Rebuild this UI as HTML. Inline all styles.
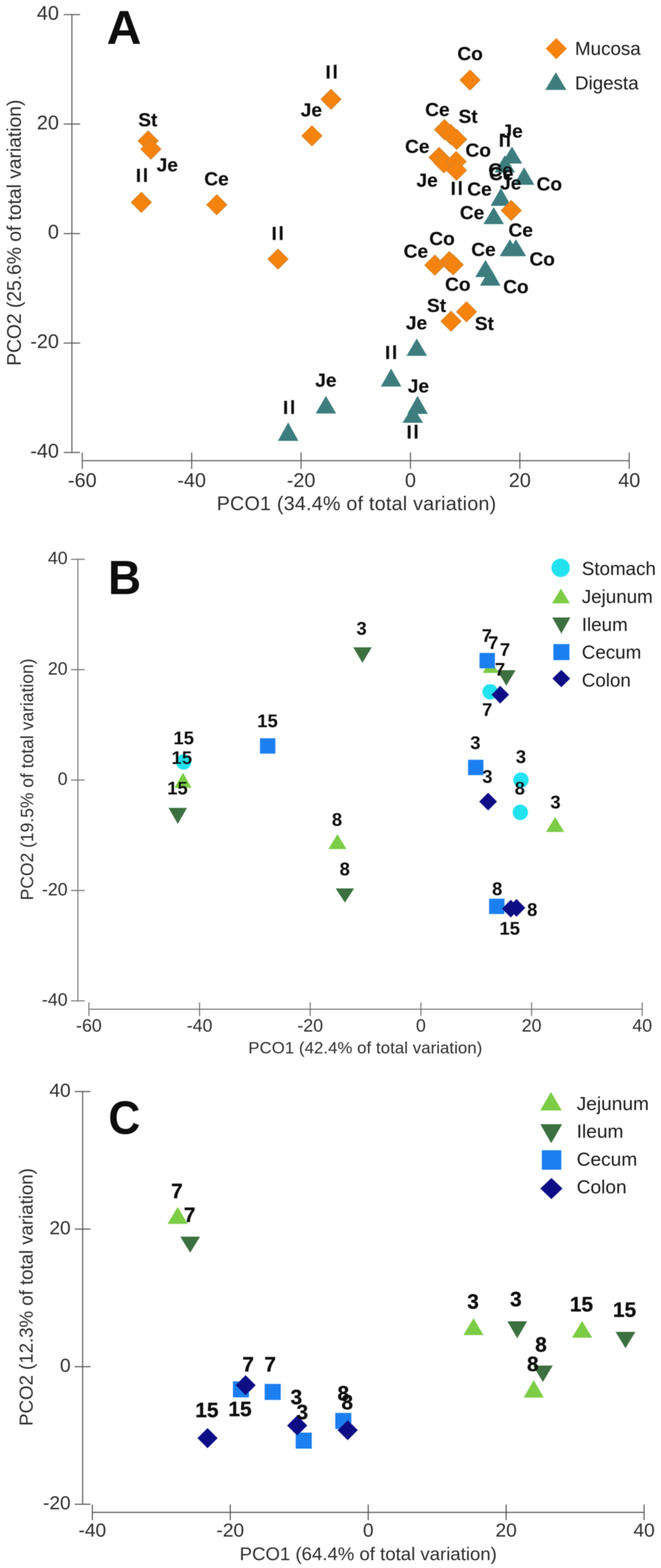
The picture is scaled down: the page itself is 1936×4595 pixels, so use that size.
<!DOCTYPE html>
<html><head><meta charset="utf-8"><title>PCO plots</title>
<style>
html,body{margin:0;padding:0;background:#fff;}
body{width:1936px;height:4595px;overflow:hidden;}
svg{display:block;}
text{font-family:"Liberation Sans",Arial,sans-serif;}
.tk{fill:#2e2e2e;}
.tt{fill:#2e2e2e;}
.lb{fill:#111;font-weight:bold;}
.lbA{stroke:#111;stroke-width:0.4px;}
.lbC{stroke:#111;stroke-width:0.8px;}
.big{fill:#0a0a0a;font-weight:bold;}
.lg{fill:#1e1e1e;}
</style></head>
<body>
<svg width="1936" height="4595" viewBox="0 0 1936 4595">
<defs><filter id="soft" x="0" y="0" width="100%" height="100%" filterUnits="userSpaceOnUse"><feGaussianBlur stdDeviation="1.0"/></filter></defs>
<rect width="1936" height="4595" fill="#fff"/>
<g filter="url(#soft)">
<line x1="210.5" y1="42.8" x2="210.5" y2="1326.0" stroke="#555" stroke-width="3"/>
<line x1="186.5" y1="42.8" x2="234.5" y2="42.8" stroke="#555" stroke-width="3"/>
<text x="172.5" y="57.8" font-size="58" class="tk" text-anchor="end">40</text>
<line x1="186.5" y1="363.6" x2="234.5" y2="363.6" stroke="#555" stroke-width="3"/>
<text x="172.5" y="378.6" font-size="58" class="tk" text-anchor="end">20</text>
<line x1="186.5" y1="684.4" x2="234.5" y2="684.4" stroke="#555" stroke-width="3"/>
<text x="172.5" y="699.4" font-size="58" class="tk" text-anchor="end">0</text>
<line x1="186.5" y1="1005.2" x2="234.5" y2="1005.2" stroke="#555" stroke-width="3"/>
<text x="172.5" y="1020.2" font-size="58" class="tk" text-anchor="end">-20</text>
<line x1="186.5" y1="1326.0" x2="234.5" y2="1326.0" stroke="#555" stroke-width="3"/>
<text x="172.5" y="1341.0" font-size="58" class="tk" text-anchor="end">-40</text>
<line x1="241.0" y1="1350" x2="1843.0" y2="1350" stroke="#555" stroke-width="3"/>
<line x1="241.0" y1="1326" x2="241.0" y2="1374" stroke="#555" stroke-width="3"/>
<text x="241.0" y="1427.0" font-size="58" class="tk" text-anchor="middle">-60</text>
<line x1="561.4" y1="1326" x2="561.4" y2="1374" stroke="#555" stroke-width="3"/>
<text x="561.4" y="1427.0" font-size="58" class="tk" text-anchor="middle">-40</text>
<line x1="881.8" y1="1326" x2="881.8" y2="1374" stroke="#555" stroke-width="3"/>
<text x="881.8" y="1427.0" font-size="58" class="tk" text-anchor="middle">-20</text>
<line x1="1202.2" y1="1326" x2="1202.2" y2="1374" stroke="#555" stroke-width="3"/>
<text x="1202.2" y="1427.0" font-size="58" class="tk" text-anchor="middle">0</text>
<line x1="1522.6" y1="1326" x2="1522.6" y2="1374" stroke="#555" stroke-width="3"/>
<text x="1522.6" y="1427.0" font-size="58" class="tk" text-anchor="middle">20</text>
<line x1="1843.0" y1="1326" x2="1843.0" y2="1374" stroke="#555" stroke-width="3"/>
<text x="1843.0" y="1427.0" font-size="58" class="tk" text-anchor="middle">40</text>
<text x="1044.0" y="1495.0" font-size="57.5" class="tt" text-anchor="middle" id="xA" textLength="818.5" lengthAdjust="spacing">PCO1 (34.4% of total variation)</text>
<text x="0" y="0" font-size="56.5" class="tt" text-anchor="middle" transform="translate(61,682) rotate(-90)" id="yA" textLength="780.0" lengthAdjust="spacing">PCO2 (25.6% of total variation)</text>
<text x="312.5" y="129.2" font-size="140.7" class="big" text-anchor="start" transform="matrix(1 0 0 0.99 0 1.29)">A</text>
<path d="M1629.3 111.4L1660.3 142.4L1629.3 173.4L1598.3 142.4Z" fill="#f6830f"/>
<path d="M1628.0 211.7L1659.0 263.6L1597.0 263.6Z" fill="#3d7d7e"/>
<text x="1684.0" y="161.4" font-size="55" class="lg" text-anchor="start">Mucosa</text>
<text x="1684.0" y="262.0" font-size="55" class="lg" text-anchor="start">Digesta</text>
<path d="M1499.5 429.5L1529.5 479.3L1469.5 479.3Z" fill="#3d7d7e"/>
<path d="M1478.5 455.0L1508.5 505.6L1448.5 505.6Z" fill="#3d7d7e"/>
<path d="M1535.0 490.0L1565.0 541.6L1505.0 541.6Z" fill="#3d7d7e"/>
<path d="M1467.0 551.0L1497.0 603.2L1437.0 603.2Z" fill="#3d7d7e"/>
<path d="M1446.0 607.0L1476.0 656.8L1416.0 656.8Z" fill="#3d7d7e"/>
<path d="M1493.5 701.0L1523.5 750.8L1463.5 750.8Z" fill="#3d7d7e"/>
<path d="M1511.0 701.0L1541.0 750.8L1481.0 750.8Z" fill="#3d7d7e"/>
<path d="M1422.0 762.0L1452.0 812.0L1392.0 812.0Z" fill="#3d7d7e"/>
<path d="M1436.0 785.0L1466.0 837.0L1406.0 837.0Z" fill="#3d7d7e"/>
<path d="M1220.7 992.0L1250.7 1042.8L1190.7 1042.8Z" fill="#3d7d7e"/>
<path d="M1145.5 1080.0L1175.5 1132.7L1115.5 1132.7Z" fill="#3d7d7e"/>
<path d="M954.6 1160.0L984.6 1211.8L924.6 1211.8Z" fill="#3d7d7e"/>
<path d="M844.0 1237.8L874.0 1292.0L814.0 1292.0Z" fill="#3d7d7e"/>
<path d="M1223.0 1160.0L1253.0 1213.0L1193.0 1213.0Z" fill="#3d7d7e"/>
<path d="M1209.0 1190.8L1239.0 1239.0L1179.0 1239.0Z" fill="#3d7d7e"/>
<path d="M434.0 383.3L463.7 413.0L434.0 442.7L404.3 413.0Z" fill="#f6830f" stroke="#d0862c" stroke-width="2" stroke-linejoin="round"/>
<path d="M442.0 407.3L471.7 437.0L442.0 466.7L412.3 437.0Z" fill="#f6830f" stroke="#d0862c" stroke-width="2" stroke-linejoin="round"/>
<path d="M414.0 563.3L443.7 593.0L414.0 622.7L384.3 593.0Z" fill="#f6830f" stroke="#d0862c" stroke-width="2" stroke-linejoin="round"/>
<path d="M635.0 570.3L664.7 600.0L635.0 629.7L605.3 600.0Z" fill="#f6830f" stroke="#d0862c" stroke-width="2" stroke-linejoin="round"/>
<path d="M814.3 729.6L844.0 759.3L814.3 789.0L784.6 759.3Z" fill="#f6830f" stroke="#d0862c" stroke-width="2" stroke-linejoin="round"/>
<path d="M913.6 368.3L943.3 398.0L913.6 427.7L883.9 398.0Z" fill="#f6830f" stroke="#d0862c" stroke-width="2" stroke-linejoin="round"/>
<path d="M969.6 261.3L999.3 291.0L969.6 320.7L939.9 291.0Z" fill="#f6830f" stroke="#d0862c" stroke-width="2" stroke-linejoin="round"/>
<path d="M1376.7 204.9L1406.4 234.6L1376.7 264.3L1347.0 234.6Z" fill="#f6830f" stroke="#d0862c" stroke-width="2" stroke-linejoin="round"/>
<path d="M1302.0 350.3L1331.7 380.0L1302.0 409.7L1272.3 380.0Z" fill="#f6830f" stroke="#d0862c" stroke-width="2" stroke-linejoin="round"/>
<path d="M1320.0 364.3L1349.7 394.0L1320.0 423.7L1290.3 394.0Z" fill="#f6830f" stroke="#d0862c" stroke-width="2" stroke-linejoin="round"/>
<path d="M1337.5 378.8L1367.2 408.5L1337.5 438.2L1307.8 408.5Z" fill="#f6830f" stroke="#d0862c" stroke-width="2" stroke-linejoin="round"/>
<path d="M1286.0 431.8L1315.7 461.5L1286.0 491.2L1256.3 461.5Z" fill="#f6830f" stroke="#d0862c" stroke-width="2" stroke-linejoin="round"/>
<path d="M1300.0 447.3L1329.7 477.0L1300.0 506.7L1270.3 477.0Z" fill="#f6830f" stroke="#d0862c" stroke-width="2" stroke-linejoin="round"/>
<path d="M1336.0 443.8L1365.7 473.5L1336.0 503.2L1306.3 473.5Z" fill="#f6830f" stroke="#d0862c" stroke-width="2" stroke-linejoin="round"/>
<path d="M1337.0 469.3L1366.7 499.0L1337.0 528.7L1307.3 499.0Z" fill="#f6830f" stroke="#d0862c" stroke-width="2" stroke-linejoin="round"/>
<path d="M1497.5 587.0L1527.2 616.7L1497.5 646.4L1467.8 616.7Z" fill="#f6830f" stroke="#d0862c" stroke-width="2" stroke-linejoin="round"/>
<path d="M1273.5 747.3L1303.2 777.0L1273.5 806.7L1243.8 777.0Z" fill="#f6830f" stroke="#d0862c" stroke-width="2" stroke-linejoin="round"/>
<path d="M1316.0 736.9L1345.7 766.6L1316.0 796.3L1286.3 766.6Z" fill="#f6830f" stroke="#d0862c" stroke-width="2" stroke-linejoin="round"/>
<path d="M1327.4 746.3L1357.1 776.0L1327.4 805.7L1297.7 776.0Z" fill="#f6830f" stroke="#d0862c" stroke-width="2" stroke-linejoin="round"/>
<path d="M1321.0 911.7L1350.7 941.4L1321.0 971.1L1291.3 941.4Z" fill="#f6830f" stroke="#d0862c" stroke-width="2" stroke-linejoin="round"/>
<path d="M1366.4 884.0L1396.1 913.7L1366.4 943.4L1336.7 913.7Z" fill="#f6830f" stroke="#d0862c" stroke-width="2" stroke-linejoin="round"/>
<text x="433.0" y="370.0" font-size="56" class="lb lbA" text-anchor="middle">St</text>
<text x="490.0" y="502.0" font-size="56" class="lb lbA" text-anchor="middle">Je</text>
<text x="418.3" y="533.0" font-size="56" class="lb lbA" text-anchor="middle" letter-spacing="5">Il</text>
<text x="634.0" y="542.6" font-size="56" class="lb lbA" text-anchor="middle">Ce</text>
<text x="815.8" y="702.5" font-size="56" class="lb lbA" text-anchor="middle" letter-spacing="5">Il</text>
<text x="912.0" y="340.7" font-size="56" class="lb lbA" text-anchor="middle">Je</text>
<text x="973.9" y="230.0" font-size="56" class="lb lbA" text-anchor="middle" letter-spacing="5">Il</text>
<text x="1376.8" y="175.6" font-size="56" class="lb lbA" text-anchor="middle">Co</text>
<text x="1281.0" y="339.6" font-size="56" class="lb lbA" text-anchor="middle">Ce</text>
<text x="1371.0" y="360.0" font-size="56" class="lb lbA" text-anchor="middle">St</text>
<text x="1222.0" y="447.7" font-size="56" class="lb lbA" text-anchor="middle">Ce</text>
<text x="1400.7" y="458.8" font-size="56" class="lb lbA" text-anchor="middle">Co</text>
<text x="1251.0" y="547.0" font-size="56" class="lb lbA" text-anchor="middle">Je</text>
<text x="1340.3" y="571.0" font-size="56" class="lb lbA" text-anchor="middle" letter-spacing="5">Il</text>
<text x="1404.4" y="573.0" font-size="56" class="lb lbA" text-anchor="middle">Ce</text>
<text x="1500.0" y="403.3" font-size="56" class="lb lbA" text-anchor="middle">Je</text>
<text x="1481.3" y="429.5" font-size="56" class="lb lbA" text-anchor="middle" letter-spacing="5">Il</text>
<text x="1466.0" y="517.0" font-size="56" class="lb lbA" text-anchor="middle">Ce</text>
<text x="1468.0" y="528.0" font-size="56" class="lb lbA" text-anchor="middle">Ce</text>
<text x="1496.0" y="555.0" font-size="56" class="lb lbA" text-anchor="middle">Je</text>
<text x="1608.8" y="558.0" font-size="56" class="lb lbA" text-anchor="middle">Co</text>
<text x="1382.5" y="642.0" font-size="56" class="lb lbA" text-anchor="middle">Ce</text>
<text x="1525.0" y="693.0" font-size="56" class="lb lbA" text-anchor="middle">Ce</text>
<text x="1588.0" y="778.4" font-size="56" class="lb lbA" text-anchor="middle">Co</text>
<text x="1416.0" y="750.0" font-size="56" class="lb lbA" text-anchor="middle">Ce</text>
<text x="1511.0" y="858.8" font-size="56" class="lb lbA" text-anchor="middle">Co</text>
<text x="1340.8" y="852.0" font-size="56" class="lb lbA" text-anchor="middle">Co</text>
<text x="1218.0" y="755.0" font-size="56" class="lb lbA" text-anchor="middle">Ce</text>
<text x="1294.7" y="718.0" font-size="56" class="lb lbA" text-anchor="middle">Co</text>
<text x="1278.6" y="913.7" font-size="56" class="lb lbA" text-anchor="middle">St</text>
<text x="1418.7" y="966.7" font-size="56" class="lb lbA" text-anchor="middle">St</text>
<text x="1219.9" y="965.3" font-size="56" class="lb lbA" text-anchor="middle">Je</text>
<text x="1148.1" y="1052.0" font-size="56" class="lb lbA" text-anchor="middle" letter-spacing="5">Il</text>
<text x="849.2" y="1213.0" font-size="56" class="lb lbA" text-anchor="middle" letter-spacing="5">Il</text>
<text x="954.5" y="1132.7" font-size="56" class="lb lbA" text-anchor="middle">Je</text>
<text x="1225.5" y="1150.4" font-size="56" class="lb lbA" text-anchor="middle">Je</text>
<text x="1211.1" y="1284.8" font-size="56" class="lb lbA" text-anchor="middle" letter-spacing="5">Il</text>
<line x1="228" y1="1639.0" x2="228" y2="2933.0" stroke="#707070" stroke-width="3"/>
<line x1="208" y1="1639.0" x2="248" y2="1639.0" stroke="#707070" stroke-width="3"/>
<text x="198.0" y="1653.0" font-size="52" class="tk" text-anchor="end">40</text>
<line x1="208" y1="1962.5" x2="248" y2="1962.5" stroke="#707070" stroke-width="3"/>
<text x="198.0" y="1976.5" font-size="52" class="tk" text-anchor="end">20</text>
<line x1="208" y1="2286.0" x2="248" y2="2286.0" stroke="#707070" stroke-width="3"/>
<text x="198.0" y="2300.0" font-size="52" class="tk" text-anchor="end">0</text>
<line x1="208" y1="2609.5" x2="248" y2="2609.5" stroke="#707070" stroke-width="3"/>
<text x="198.0" y="2623.5" font-size="52" class="tk" text-anchor="end">-20</text>
<line x1="208" y1="2933.0" x2="248" y2="2933.0" stroke="#707070" stroke-width="3"/>
<text x="198.0" y="2947.0" font-size="52" class="tk" text-anchor="end">-40</text>
<line x1="260.4" y1="2957.5" x2="1881.0" y2="2957.5" stroke="#707070" stroke-width="3"/>
<line x1="260.4" y1="2937.5" x2="260.4" y2="2977.5" stroke="#707070" stroke-width="3"/>
<text x="260.4" y="3022.5" font-size="52" class="tk" text-anchor="middle">-60</text>
<line x1="584.52" y1="2937.5" x2="584.52" y2="2977.5" stroke="#707070" stroke-width="3"/>
<text x="584.5" y="3022.5" font-size="52" class="tk" text-anchor="middle">-40</text>
<line x1="908.64" y1="2937.5" x2="908.64" y2="2977.5" stroke="#707070" stroke-width="3"/>
<text x="908.6" y="3022.5" font-size="52" class="tk" text-anchor="middle">-20</text>
<line x1="1232.7599999999998" y1="2937.5" x2="1232.7599999999998" y2="2977.5" stroke="#707070" stroke-width="3"/>
<text x="1232.8" y="3022.5" font-size="52" class="tk" text-anchor="middle">0</text>
<line x1="1556.88" y1="2937.5" x2="1556.88" y2="2977.5" stroke="#707070" stroke-width="3"/>
<text x="1556.9" y="3022.5" font-size="52" class="tk" text-anchor="middle">20</text>
<line x1="1881.0" y1="2937.5" x2="1881.0" y2="2977.5" stroke="#707070" stroke-width="3"/>
<text x="1881.0" y="3022.5" font-size="52" class="tk" text-anchor="middle">40</text>
<text x="1070.0" y="3087.0" font-size="49" class="tt" text-anchor="middle" id="xB" textLength="685.3" lengthAdjust="spacing">PCO1 (42.4% of total variation)</text>
<text x="0" y="0" font-size="51" class="tt" text-anchor="middle" transform="translate(97,2284) rotate(-90)" id="yB" textLength="708.7" lengthAdjust="spacing">PCO2 (19.5% of total variation)</text>
<text x="316.5" y="1741.0" font-size="134" class="big" text-anchor="start" transform="matrix(1 0 0 1.055 0 -95.75)">B</text>
<circle cx="1642.0" cy="1664.0" r="27.0" fill="#20e2f0"/>
<path d="M1643.0 1724.7L1669.0 1768.0L1617.0 1768.0Z" fill="#7ccc45"/>
<path d="M1644.0 1856.4L1670.5 1809.6L1617.5 1809.6Z" fill="#3c7040"/>
<rect x="1620.8" y="1887.5" width="47.0" height="47.0" fill="#1a7ff0"/>
<path d="M1644.0 1963.0L1670.0 1988.5L1644.0 2014.0L1618.0 1988.5Z" fill="#0a0a86"/>
<text x="1704.0" y="1685.0" font-size="55" class="lg" text-anchor="start">Stomach</text>
<text x="1704.0" y="1766.8" font-size="55" class="lg" text-anchor="start">Jejunum</text>
<text x="1704.0" y="1848.6" font-size="55" class="lg" text-anchor="start">Ileum</text>
<text x="1704.0" y="1930.4" font-size="55" class="lg" text-anchor="start">Cecum</text>
<text x="1704.0" y="2012.2" font-size="55" class="lg" text-anchor="start">Colon</text>
<circle cx="537.7" cy="2233.0" r="22.5" fill="#20e2f0"/>
<circle cx="1435.5" cy="2027.4" r="22.5" fill="#20e2f0"/>
<circle cx="1525.8" cy="2286.0" r="22.5" fill="#20e2f0"/>
<circle cx="1524.0" cy="2380.6" r="22.5" fill="#20e2f0"/>
<path d="M536.0 2264.3L561.0 2308.6L511.0 2308.6Z" fill="#7ccc45"/>
<path d="M1437.0 1931.0L1460.0 1972.0L1414.0 1972.0Z" fill="#7ccc45"/>
<path d="M1626.0 2393.9L1652.5 2438.0L1599.5 2438.0Z" fill="#7ccc45"/>
<path d="M988.3 2444.5L1014.8 2488.2L961.8 2488.2Z" fill="#7ccc45"/>
<path d="M1061.7 1942.5L1088.7 1896.9L1034.7 1896.9Z" fill="#3c7040"/>
<path d="M520.7 2414.4L547.7 2367.4L493.7 2367.4Z" fill="#3c7040"/>
<path d="M1483.0 2009.5L1510.0 1964.0L1456.0 1964.0Z" fill="#3c7040"/>
<path d="M1010.2 2645.0L1037.2 2603.5L983.2 2603.5Z" fill="#3c7040"/>
<rect x="761.5" y="2163.5" width="45.0" height="45.0" fill="#1a7ff0"/>
<rect x="1404.5" y="1913.5" width="45.0" height="45.0" fill="#1a7ff0"/>
<rect x="1370.9" y="2226.5" width="45.0" height="45.0" fill="#1a7ff0"/>
<rect x="1432.5" y="2633.5" width="45.0" height="45.0" fill="#1a7ff0"/>
<path d="M1465.0 2009.7L1491.0 2035.7L1465.0 2061.7L1439.0 2035.7Z" fill="#0a0a86"/>
<path d="M1429.6 2323.0L1455.6 2349.0L1429.6 2375.0L1403.6 2349.0Z" fill="#0a0a86"/>
<path d="M1496.0 2636.8L1522.0 2662.8L1496.0 2688.8L1470.0 2662.8Z" fill="#0a0a86"/>
<path d="M1512.7 2634.6L1538.7 2660.6L1512.7 2686.6L1486.7 2660.6Z" fill="#0a0a86"/>
<text x="1059.0" y="1859.5" font-size="54" class="lb" text-anchor="middle">3</text>
<text x="783.4" y="2131.0" font-size="54" class="lb" text-anchor="middle">15</text>
<text x="538.0" y="2180.5" font-size="54" class="lb" text-anchor="middle">15</text>
<text x="532.6" y="2238.5" font-size="54" class="lb" text-anchor="middle">15</text>
<text x="519.7" y="2328.0" font-size="54" class="lb" text-anchor="middle">15</text>
<text x="1425.7" y="1881.0" font-size="54" class="lb" text-anchor="middle">7</text>
<text x="1444.4" y="1901.6" font-size="54" class="lb" text-anchor="middle">7</text>
<text x="1479.0" y="1922.4" font-size="54" class="lb" text-anchor="middle">7</text>
<text x="1464.5" y="1980.4" font-size="54" class="lb" text-anchor="middle">7</text>
<text x="1427.0" y="2098.0" font-size="54" class="lb" text-anchor="middle">7</text>
<text x="1392.3" y="2194.8" font-size="54" class="lb" text-anchor="middle">3</text>
<text x="1427.5" y="2294.3" font-size="54" class="lb" text-anchor="middle">3</text>
<text x="1525.8" y="2236.0" font-size="54" class="lb" text-anchor="middle">3</text>
<text x="1522.4" y="2327.5" font-size="54" class="lb" text-anchor="middle">8</text>
<text x="1627.0" y="2369.0" font-size="54" class="lb" text-anchor="middle">3</text>
<text x="987.0" y="2420.3" font-size="54" class="lb" text-anchor="middle">8</text>
<text x="1009.7" y="2565.4" font-size="54" class="lb" text-anchor="middle">8</text>
<text x="1456.3" y="2623.0" font-size="54" class="lb" text-anchor="middle">8</text>
<text x="1558.7" y="2683.8" font-size="54" class="lb" text-anchor="middle">8</text>
<text x="1492.8" y="2739.0" font-size="54" class="lb" text-anchor="middle">15</text>
<line x1="242" y1="3198.7" x2="242" y2="4408.2" stroke="#505050" stroke-width="3"/>
<line x1="219" y1="3198.7" x2="265" y2="3198.7" stroke="#505050" stroke-width="3"/>
<text x="207.0" y="3213.7" font-size="56" class="tk" text-anchor="end">40</text>
<line x1="219" y1="3601.8666666666663" x2="265" y2="3601.8666666666663" stroke="#505050" stroke-width="3"/>
<text x="207.0" y="3616.9" font-size="56" class="tk" text-anchor="end">20</text>
<line x1="219" y1="4005.0333333333333" x2="265" y2="4005.0333333333333" stroke="#505050" stroke-width="3"/>
<text x="207.0" y="4020.0" font-size="56" class="tk" text-anchor="end">0</text>
<line x1="219" y1="4408.2" x2="265" y2="4408.2" stroke="#505050" stroke-width="3"/>
<text x="207.0" y="4423.2" font-size="56" class="tk" text-anchor="end">-20</text>
<line x1="270.5" y1="4432" x2="1886.5" y2="4432" stroke="#505050" stroke-width="3"/>
<line x1="270.5" y1="4409" x2="270.5" y2="4455" stroke="#505050" stroke-width="3"/>
<text x="270.5" y="4502.5" font-size="56" class="tk" text-anchor="middle">-40</text>
<line x1="674.5" y1="4409" x2="674.5" y2="4455" stroke="#505050" stroke-width="3"/>
<text x="674.5" y="4502.5" font-size="56" class="tk" text-anchor="middle">-20</text>
<line x1="1078.5" y1="4409" x2="1078.5" y2="4455" stroke="#505050" stroke-width="3"/>
<text x="1078.5" y="4502.5" font-size="56" class="tk" text-anchor="middle">0</text>
<line x1="1482.5" y1="4409" x2="1482.5" y2="4455" stroke="#505050" stroke-width="3"/>
<text x="1482.5" y="4502.5" font-size="56" class="tk" text-anchor="middle">20</text>
<line x1="1886.5" y1="4409" x2="1886.5" y2="4455" stroke="#505050" stroke-width="3"/>
<text x="1886.5" y="4502.5" font-size="56" class="tk" text-anchor="middle">40</text>
<text x="1078.5" y="4572.0" font-size="54.5" class="tt" text-anchor="middle" id="xC" textLength="753.3" lengthAdjust="spacing">PCO1 (64.4% of total variation)</text>
<text x="0" y="0" font-size="55" class="tt" text-anchor="middle" transform="translate(95.6,3801) rotate(-90)" id="yC" textLength="755.5" lengthAdjust="spacing">PCO2 (12.3% of total variation)</text>
<text x="317.5" y="3323.3" font-size="129.3" class="big" text-anchor="start" transform="matrix(1 0 0 1.058 0 -192.75)">C</text>
<path d="M1613.7 3199.8L1645.2 3254.2L1582.2 3254.2Z" fill="#7ccc45"/>
<path d="M1614.5 3350.0L1646.5 3294.5L1582.5 3294.5Z" fill="#3c7040"/>
<rect x="1587.0" y="3370.8" width="57.0" height="57.0" fill="#1a7ff0"/>
<path d="M1615.0 3452.0L1647.5 3483.0L1615.0 3514.0L1582.5 3483.0Z" fill="#0a0a86"/>
<text x="1689.0" y="3253.0" font-size="56" class="lg" text-anchor="start">Jejunum</text>
<text x="1689.0" y="3334.4" font-size="56" class="lg" text-anchor="start">Ileum</text>
<text x="1689.0" y="3415.8" font-size="56" class="lg" text-anchor="start">Cecum</text>
<text x="1689.0" y="3497.2" font-size="56" class="lg" text-anchor="start">Colon</text>
<path d="M520.3 3536.9L549.8 3586.6L490.8 3586.6Z" fill="#7ccc45"/>
<path d="M1386.8 3862.9L1416.3 3912.6L1357.3 3912.6Z" fill="#7ccc45"/>
<path d="M1563.2 4044.6L1592.7 4095.4L1533.7 4095.4Z" fill="#7ccc45"/>
<path d="M1704.9 3870.9L1734.4 3920.0L1675.4 3920.0Z" fill="#7ccc45"/>
<path d="M557.0 3671.0L586.0 3624.0L528.0 3624.0Z" fill="#3c7040"/>
<path d="M1515.0 3921.7L1544.0 3872.0L1486.0 3872.0Z" fill="#3c7040"/>
<path d="M1590.0 4050.0L1619.0 4001.8L1561.0 4001.8Z" fill="#3c7040"/>
<path d="M1832.0 3951.0L1861.0 3903.0L1803.0 3903.0Z" fill="#3c7040"/>
<rect x="682.2" y="4048.0" width="47.0" height="47.0" fill="#1a7ff0"/>
<rect x="775.2" y="4055.5" width="47.0" height="47.0" fill="#1a7ff0"/>
<rect x="866.1" y="4198.2" width="47.0" height="47.0" fill="#1a7ff0"/>
<rect x="982.0" y="4140.5" width="47.0" height="47.0" fill="#1a7ff0"/>
<path d="M607.9 4184.9L637.4 4214.4L607.9 4243.9L578.4 4214.4Z" fill="#0a0a86"/>
<path d="M719.3 4030.0L748.8 4059.5L719.3 4089.0L689.8 4059.5Z" fill="#0a0a86"/>
<path d="M870.4 4148.0L899.9 4177.5L870.4 4207.0L840.9 4177.5Z" fill="#0a0a86"/>
<path d="M1018.3 4161.5L1047.8 4191.0L1018.3 4220.5L988.8 4191.0Z" fill="#0a0a86"/>
<text x="518.2" y="3510.6" font-size="61" class="lb lbC" text-anchor="middle">7</text>
<text x="555.5" y="3581.0" font-size="61" class="lb lbC" text-anchor="middle">7</text>
<text x="606.0" y="4153.0" font-size="61" class="lb lbC" text-anchor="middle">15</text>
<text x="702.9" y="4149.9" font-size="61" class="lb lbC" text-anchor="middle">15</text>
<text x="726.8" y="4019.0" font-size="61" class="lb lbC" text-anchor="middle">7</text>
<text x="791.3" y="4019.0" font-size="61" class="lb lbC" text-anchor="middle">7</text>
<text x="867.9" y="4114.8" font-size="61" class="lb lbC" text-anchor="middle">3</text>
<text x="885.4" y="4159.0" font-size="61" class="lb lbC" text-anchor="middle">3</text>
<text x="1005.5" y="4103.6" font-size="61" class="lb lbC" text-anchor="middle">8</text>
<text x="1017.0" y="4130.3" font-size="61" class="lb lbC" text-anchor="middle">8</text>
<text x="1385.5" y="3835.0" font-size="61" class="lb lbC" text-anchor="middle">3</text>
<text x="1511.0" y="3828.0" font-size="61" class="lb lbC" text-anchor="middle">3</text>
<text x="1584.5" y="3960.7" font-size="61" class="lb lbC" text-anchor="middle">8</text>
<text x="1560.5" y="4017.9" font-size="61" class="lb lbC" text-anchor="middle">8</text>
<text x="1703.0" y="3843.0" font-size="61" class="lb lbC" text-anchor="middle">15</text>
<text x="1829.2" y="3859.0" font-size="61" class="lb lbC" text-anchor="middle">15</text>
</g>
</svg>
</body></html>
